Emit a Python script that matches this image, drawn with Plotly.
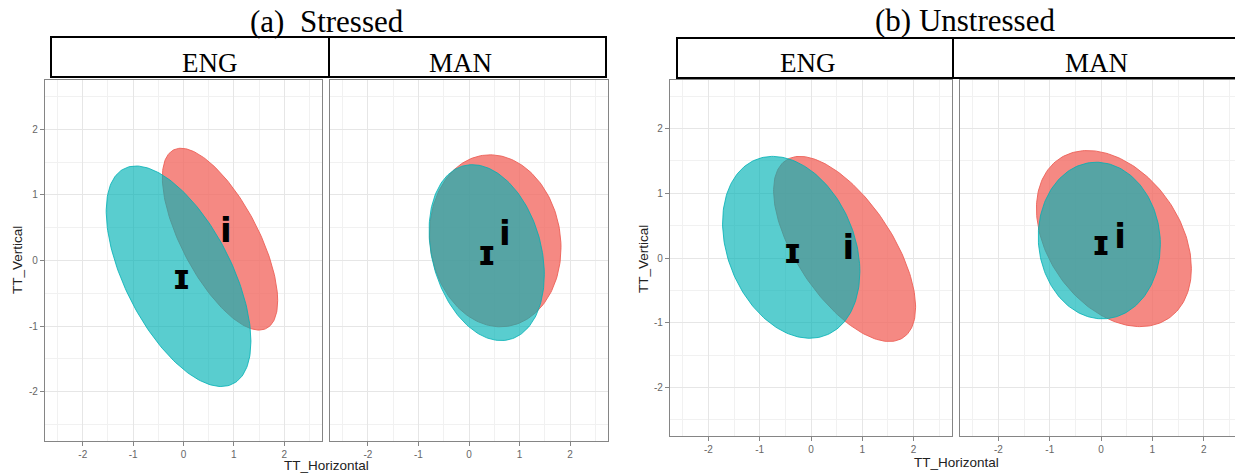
import numpy as np
import plotly.graph_objects as go

# ---------------- data ----------------
panel_keys = ["a_ENG", "a_MAN", "b_ENG", "b_MAN"]
strip_labels = ["ENG", "MAN", "ENG", "MAN"]
section_titles = ["(a)\u00a0 Stressed", "(b) Unstressed"]
vowel_labels = ["i", "\u026a"]          # red = i, cyan = ɪ

# ellipse for /i/ (red): centre, half-extent along x / y, correlation
i_center_x = [0.725, 0.52, 0.655, 0.25]
i_center_y = [0.325, 0.30, 0.14, 0.30]
i_half_x = [1.145, 1.30, 1.385, 1.51]
i_half_y = [1.385, 1.31, 1.43, 1.36]
i_rho = [-0.677, -0.08, -0.63, -0.34]

# ellipse for /ɪ/ (cyan)
I_center_x = [-0.098, 0.35, -0.386, -0.035]
I_center_y = [-0.24, 0.12, 0.165, 0.27]
I_half_x = [1.437, 1.14, 1.339, 1.19]
I_half_y = [1.68, 1.34, 1.405, 1.21]
I_rho = [-0.59, -0.25, -0.27, -0.05]

# vowel label positions
i_label_x = [0.84, 0.71, 0.73, 0.37]
i_label_y = [0.41, 0.37, 0.12, 0.29]
I_label_x = [-0.04, 0.35, -0.36, 0.00]
I_label_y = [-0.30, 0.065, 0.06, 0.185]

tick_vals = [-2, -1, 0, 1, 2]
tick_text = ["-2", "-1", "0", "1", "2"]
x_title = "TT_Horizontal"
y_title = "TT_Vertical"

# ---------------- layout geometry (pixels) ----------------
W, H = 1235, 473
panel_px_x = [(45, 322), (330, 608), (670, 952), (960, 1235)]
panel_px_y = [(80, 441), (80, 441), (80, 436), (80, 436)]
x_ranges = [[-2.75, 2.75], [-2.75, 2.75], [-2.75, 2.75], [-2.75, 2.61]]
y_range = [-2.75, 2.75]

RED_FILL = "rgba(242,104,96,0.78)"
RED_LINE = "rgba(236,96,88,0.9)"
CYAN_FILL = "rgba(0,178,181,0.65)"
CYAN_LINE = "rgba(0,176,180,0.8)"


def px_x(p):
    return p / W


def px_y(p):
    return 1 - p / H


def ellipse(cx, cy, sx, sy, rho, n=200):
    t = np.linspace(0, 2 * np.pi, n)
    x = cx + sx * np.cos(t)
    y = cy + sy * (rho * np.cos(t) - np.sqrt(1 - rho ** 2) * np.sin(t))
    return x, y


fig = go.Figure()

for k in range(4):
    sfx = "" if k == 0 else str(k + 1)
    xa, ya = "x" + sfx, "y" + sfx
    ex, ey = ellipse(i_center_x[k], i_center_y[k], i_half_x[k], i_half_y[k], i_rho[k])
    fig.add_trace(go.Scatter(x=ex, y=ey, mode="lines", fill="toself",
                             fillcolor=RED_FILL, line=dict(color=RED_LINE, width=1),
                             xaxis=xa, yaxis=ya, showlegend=False, hoverinfo="skip"))
    ex, ey = ellipse(I_center_x[k], I_center_y[k], I_half_x[k], I_half_y[k], I_rho[k])
    fig.add_trace(go.Scatter(x=ex, y=ey, mode="lines", fill="toself",
                             fillcolor=CYAN_FILL, line=dict(color=CYAN_LINE, width=1),
                             xaxis=xa, yaxis=ya, showlegend=False, hoverinfo="skip"))
    fig.add_trace(go.Scatter(x=[i_label_x[k], I_label_x[k]], y=[i_label_y[k], I_label_y[k]],
                             mode="text", text=vowel_labels, textposition="middle center",
                             textfont=dict(family="DejaVu Sans", size=34, color="black", weight="bold"),
                             xaxis=xa, yaxis=ya, showlegend=False, hoverinfo="skip"))

    common = dict(showgrid=True, gridcolor="#e6e6e6", gridwidth=1, zeroline=False,
                  showline=True, linecolor="#858585", linewidth=1.2,
                  minor=dict(dtick=0.5, tick0=0, showgrid=True, gridcolor="#f1f1f1", gridwidth=0.6),
                  tickvals=tick_vals, ticktext=tick_text,
                  tickfont=dict(family="Liberation Sans", size=10, color="#666666"),
                  fixedrange=True)
    xd = dict(common, domain=[px_x(panel_px_x[k][0]), px_x(panel_px_x[k][1])],
              range=x_ranges[k], anchor=ya, mirror=True,
              ticks="outside", ticklen=4, tickcolor="#858585", tickwidth=1)
    show_y = (k % 2 == 0)
    yd = dict(common, domain=[px_y(panel_px_y[k][1]), px_y(panel_px_y[k][0])],
              range=y_range, anchor=xa, mirror=(k != 3),
              ticks="outside" if show_y else "", ticklen=4, tickcolor="#858585", tickwidth=1,
              showticklabels=show_y)
    fig.layout["xaxis" + sfx] = xd
    fig.layout["yaxis" + sfx] = yd

shapes = []
annotations = []
# strips
strip_boxes = [(51, 329, 37, 77), (329, 606, 37, 77), (677, 953, 38, 78), (953, 1245, 38, 78)]
strip_text_x = [210, 460, 808, 1096]
for k, (x0, x1, y0, y1) in enumerate(strip_boxes):
    shapes.append(dict(type="rect", xref="paper", yref="paper",
                       x0=px_x(x0), x1=px_x(x1), y0=px_y(y1), y1=px_y(y0),
                       line=dict(color="black", width=2), fillcolor="white", layer="above"))
    annotations.append(dict(text=strip_labels[k], xref="paper", yref="paper",
                            x=px_x(strip_text_x[k]), y=px_y(62.5), xanchor="center", yanchor="middle",
                            showarrow=False,
                            font=dict(family="Liberation Serif", size=27, color="black")))

title_x = [327, 965]
title_y = [21.5, 20.5]
for j in range(2):
    annotations.append(dict(text=section_titles[j], xref="paper", yref="paper",
                            x=px_x(title_x[j]), y=px_y(title_y[j]), xanchor="center", yanchor="middle",
                            showarrow=False,
                            font=dict(family="Liberation Serif", size=31, color="black")))

# axis titles
xt_pos = [(326, 465), (956, 462)]
yt_pos = [(17, 260), (643, 259)]
for j in range(2):
    annotations.append(dict(text=x_title, xref="paper", yref="paper",
                            x=px_x(xt_pos[j][0]), y=px_y(xt_pos[j][1]), xanchor="center", yanchor="middle",
                            showarrow=False,
                            font=dict(family="Liberation Sans", size=13.5, color="#222222")))
    annotations.append(dict(text=y_title, xref="paper", yref="paper", textangle=-90,
                            x=px_x(yt_pos[j][0]), y=px_y(yt_pos[j][1]), xanchor="center", yanchor="middle",
                            showarrow=False,
                            font=dict(family="Liberation Sans", size=13.5, color="#222222")))

fig.update_layout(width=W, height=H, margin=dict(l=0, r=0, t=0, b=0),
                  paper_bgcolor="white", plot_bgcolor="white",
                  shapes=shapes, annotations=annotations, showlegend=False)

fig.write_html("out.html", config={"displayModeBar": False},
               post_script="document.body.style.margin='0';document.body.style.overflow='hidden';")
